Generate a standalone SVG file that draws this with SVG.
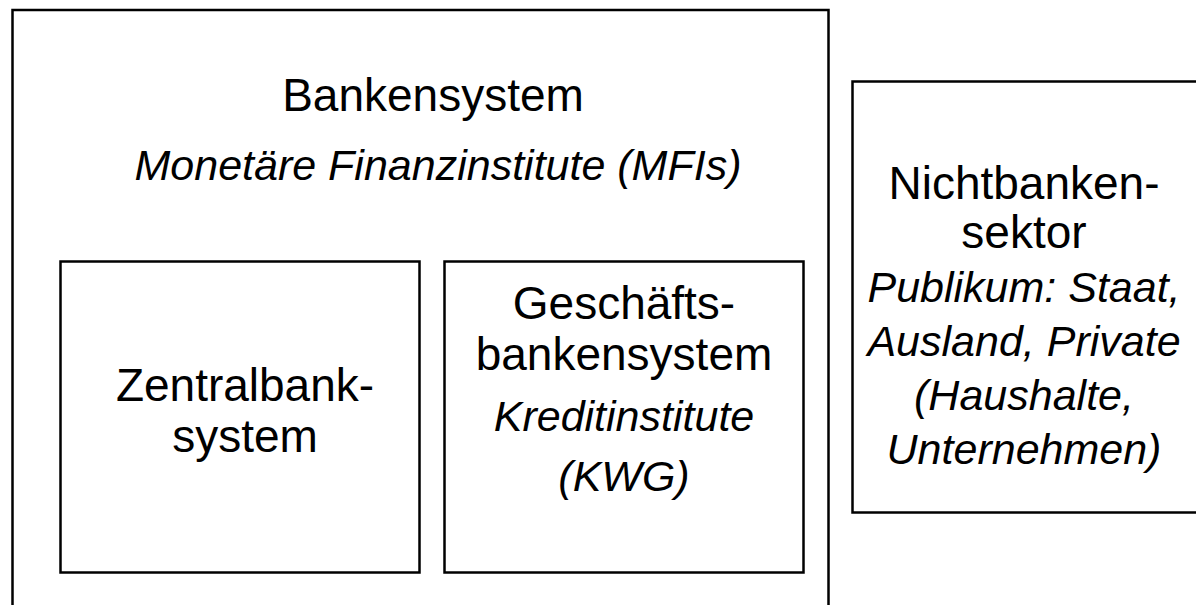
<svg xmlns="http://www.w3.org/2000/svg" width="1196" height="605" viewBox="0 0 1196 605">
<style>
.box{fill:#fff;stroke:#000;stroke-width:2.5}
.t{font-family:"Liberation Sans",Arial,sans-serif;font-size:46px;fill:#000;text-anchor:middle}
.i{font-style:italic;font-size:43px}
</style>
<rect x="0" y="0" width="1196" height="605" fill="#fff"/>
<g id="bankensystem">
<rect class="box" x="12.5" y="10" width="816" height="610"/>
<text class="t" x="433" y="111">Bankensystem</text>
<text class="t i" x="438" y="180">Monetäre Finanzinstitute (MFIs)</text>
</g>
<g id="zentralbank">
<rect class="box" x="60.5" y="261.5" width="359" height="311"/>
<text class="t" x="245" y="401">Zentralbank-</text>
<text class="t" x="245" y="452">system</text>
</g>
<g id="geschaeftsbanken">
<rect class="box" x="444.5" y="261.5" width="359" height="311"/>
<text class="t" x="624" y="319">Geschäfts-</text>
<text class="t" x="624" y="370">bankensystem</text>
<text class="t i" x="624" y="431">Kreditinstitute</text>
<text class="t i" x="624" y="491">(KWG)</text>
</g>
<g id="nichtbanken">
<rect class="box" x="852.5" y="81.5" width="360" height="431"/>
<text class="t" x="1024" y="199">Nichtbanken-</text>
<text class="t" x="1024" y="248">sektor</text>
<text class="t i" x="1024" y="302">Publikum: Staat,</text>
<text class="t i" x="1024" y="356">Ausland, Private</text>
<text class="t i" x="1024" y="410">(Haushalte,</text>
<text class="t i" x="1024" y="464">Unternehmen)</text>
</g>
<g id="connectors"></g>
</svg>
